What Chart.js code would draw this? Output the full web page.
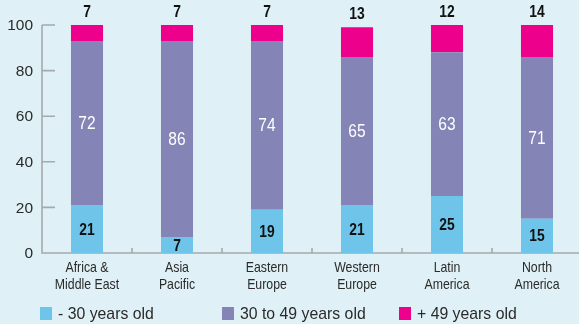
<!DOCTYPE html>
<html>
<head>
<meta charset="utf-8">
<script src="https://cdn.jsdelivr.net/npm/chart.js@4.4.1/dist/chart.umd.min.js"></script>
<style>
  html, body { margin: 0; padding: 0; overflow: hidden; background: #dff1f6; }
  #wrap { width: 584px; height: 324px; }
  canvas { display: block; }
</style>
</head>
<body>
<div id="wrap"><canvas id="c" width="584" height="324"></canvas></div>
<script>
// Age structure by region (share of respondents, %)
const categories = [
  ["Africa &", "Middle East"],
  ["Asia", "Pacific"],
  ["Eastern", "Europe"],
  ["Western", "Europe"],
  ["Latin", "America"],
  ["North", "America"]
];
const seriesNames = ["- 30 years old", "30 to 49 years old", "+ 49 years old"];
const under30 = [21, 7, 19, 21, 25, 15];
const age30to49 = [72, 86, 74, 65, 63, 71];
const over49 = [7, 7, 7, 13, 12, 14];
const yTicks = [0, 20, 40, 60, 80, 100];

const COLORS = ["#6ec5e9", "#8584b6", "#ec008c"];
const AXIS = "#a6a9ad";
const TEXT = "#2a2a2a";
const SANS = "'Liberation Sans', Arial, sans-serif";

// Draws text horizontally condensed around the given anchor
function squeezedText(ctx, text, x, y, align, squeeze) {
  ctx.save();
  ctx.translate(x, y);
  ctx.scale(squeeze || 0.82, 1);
  ctx.textAlign = align || "center";
  ctx.fillText(text, 0, 0);
  ctx.restore();
}

// Axis lines, inward tick marks and axis labels, drawn underneath the bars
const axesPlugin = {
  id: "axes",
  beforeDatasetsDraw(chart) {
    const { ctx, chartArea: a, scales: { x, y } } = chart;
    const y0 = y.getPixelForValue(0);
    ctx.save();
    ctx.strokeStyle = AXIS;
    ctx.lineWidth = 1.6;
    ctx.beginPath();
    ctx.moveTo(a.left, y.getPixelForValue(100));
    ctx.lineTo(a.left, y0);
    ctx.lineTo(a.right, y0);
    ctx.stroke();
    ctx.beginPath();
    yTicks.forEach(v => {
      if (v === 0) return;
      const py = y.getPixelForValue(v);
      ctx.moveTo(a.left, py);
      ctx.lineTo(a.left + 13, py);
    });
    for (let i = 1; i < categories.length; i++) {
      const px = (x.getPixelForValue(i - 1) + x.getPixelForValue(i)) / 2;
      ctx.moveTo(px, y0);
      ctx.lineTo(px, y0 - 5);
    }
    ctx.stroke();

    // y tick labels
    ctx.fillStyle = TEXT;
    ctx.font = "15.5px " + SANS;
    ctx.textAlign = "right";
    ctx.textBaseline = "middle";
    yTicks.forEach(v => ctx.fillText(String(v), a.left - 9, y.getPixelForValue(v) + 1));

    // category labels (two lines each)
    ctx.font = "15px " + SANS;
    ctx.textBaseline = "middle";
    categories.forEach((lines, i) => {
      const px = x.getPixelForValue(i);
      lines.forEach((t, k) => squeezedText(ctx, t, px, y0 + 15 + k * 17, "center", 0.82));
    });
    ctx.restore();
  }
};

// Value labels: inside the lower two segments, above the top segment
const valueLabels = {
  id: "valueLabels",
  afterDatasetsDraw(chart) {
    const { ctx } = chart;
    ctx.save();
    ctx.textBaseline = "middle";
    chart.data.datasets.forEach((ds, di) => {
      const meta = chart.getDatasetMeta(di);
      meta.data.forEach((bar, i) => {
        const v = String(ds.data[i]);
        const top = Math.min(bar.y, bar.base);
        const bottom = Math.max(bar.y, bar.base);
        if (di === 1) {
          ctx.fillStyle = "#ffffff";
          ctx.font = "18.5px " + SANS;
        } else {
          ctx.fillStyle = "#111111";
          ctx.font = "bold 16.5px " + SANS;
        }
        const cy = di === 2 ? top - 12.5 : (top + bottom) / 2 + 1;
        squeezedText(ctx, v, bar.x, cy, "center", 0.84);
      });
    });
    ctx.restore();
  }
};

// Legend row along the bottom edge
const legendRow = {
  id: "legendRow",
  afterDraw(chart) {
    const { ctx } = chart;
    const xs = [40, 222, 399];
    const cy = 313.5;
    ctx.save();
    ctx.font = "17px " + SANS;
    ctx.textBaseline = "middle";
    chart.data.datasets.forEach((ds, i) => {
      ctx.fillStyle = ds.backgroundColor;
      ctx.fillRect(xs[i], cy - 6.5, 12, 13);
      ctx.fillStyle = TEXT;
      squeezedText(ctx, ds.label, xs[i] + 18, cy + 0.5, "left", 0.93);
    });
    ctx.restore();
  }
};

const datasets = [under30, age30to49, over49].map((d, i) => ({
  label: seriesNames[i],
  data: d,
  backgroundColor: COLORS[i],
  borderWidth: 0,
  categoryPercentage: 1,
  barPercentage: 0.356
}));

new Chart(document.getElementById("c"), {
  type: "bar",
  data: { labels: categories, datasets },
  options: {
    responsive: false,
    animation: false,
    layout: { padding: { top: 25, right: 2, left: 0, bottom: 0 } },
    plugins: { legend: { display: false }, tooltip: { enabled: false } },
    scales: {
      x: {
        stacked: true,
        grid: { display: false },
        border: { display: false },
        ticks: { display: false },
        afterFit(s) { s.height = 71; }
      },
      y: {
        stacked: true,
        min: 0,
        max: 100,
        afterBuildTicks(s) { s.ticks = yTicks.map(v => ({ value: v })); },
        grid: { display: false },
        border: { display: false },
        ticks: { display: false },
        afterFit(s) { s.width = 42; }
      }
    }
  },
  plugins: [axesPlugin, valueLabels, legendRow]
});
</script>
</body>
</html>
